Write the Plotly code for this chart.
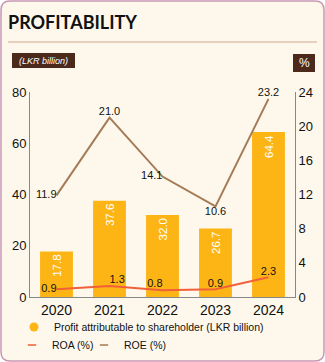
import plotly.graph_objects as go

years = ["2020", "2021", "2022", "2023", "2024"]
profit = [17.8, 37.6, 32.0, 26.7, 64.4]
roa = [0.9, 1.3, 0.8, 0.9, 2.3]
roe = [11.9, 21.0, 14.1, 10.6, 23.2]
roa_pos = ["middle left", "top right", "top left", "top center", "top center"]
roe_pos = ["middle left", "top center", "middle left", "bottom center", "top center"]

BAR = "#FDB515"
ROA_C = "#F2603A"
ROE_C = "#A57B57"
BG = "#FEF8EC"
FONT = "Liberation Sans"

W, H = 325, 362
L, R, T, B = 30, 30, 92, 65
PW, PH = W - L - R, H - T - B


def px(x):
    return (x - L) / PW


def py(y):
    return 1 - (y - T) / PH


fig = go.Figure()
fig.add_trace(go.Bar(
    x=years, y=profit, marker=dict(color=BAR, line=dict(width=0)),
    text=[f"{v:.1f}" for v in profit], textposition="inside", insidetextanchor="end",
    textangle=-90, textfont=dict(color="white", size=11.5, family=FONT),
    showlegend=False, yaxis="y", hoverinfo="skip",
))
fig.add_trace(go.Scatter(
    x=years, y=roa, mode="lines+text", line=dict(color=ROA_C, width=2),
    text=[f"{v:.1f}" for v in roa], textposition=roa_pos,
    textfont=dict(color="#111", size=11, family=FONT), cliponaxis=False,
    name="ROA (%)", yaxis="y2", showlegend=False,
))
fig.add_trace(go.Scatter(
    x=years, y=roe, mode="lines+text", line=dict(color=ROE_C, width=2),
    text=[f"{v:.1f}" for v in roe], textposition=roe_pos,
    textfont=dict(color="#111", size=11, family=FONT), cliponaxis=False,
    name="ROE (%)", yaxis="y2", showlegend=False,
))
# legend entries
fig.add_trace(go.Scatter(
    x=[None], y=[None], mode="markers", marker=dict(symbol="circle", size=9, color=BAR),
    name="Profit attributable to shareholder (LKR billion)", showlegend=True, legend="legend",
))
fig.add_trace(go.Scatter(
    x=[None], y=[None], mode="markers",
    marker=dict(symbol="line-ew", size=6, line=dict(color=ROA_C, width=1.5)),
    name="ROA (%)", showlegend=True, legend="legend2",
))
fig.add_trace(go.Scatter(
    x=[None], y=[None], mode="markers",
    marker=dict(symbol="line-ew", size=6, line=dict(color=ROE_C, width=1.5)),
    name="ROE (%)", showlegend=True, legend="legend3",
))

LEG_FONT = dict(size=10.5, color="#111", family=FONT)
fig.update_layout(
    width=W, height=H,
    margin=dict(l=L, r=R, t=T, b=B, autoexpand=False),
    paper_bgcolor="white", plot_bgcolor="rgba(0,0,0,0)",
    font=dict(family=FONT, color="#111"),
    bargap=0.38,
    xaxis=dict(showline=True, linecolor="#888", linewidth=1, ticks="",
               tickfont=dict(size=14, color="#111"), fixedrange=True),
    yaxis=dict(range=[0, 80], dtick=20, showgrid=False, zeroline=False,
               showline=True, linecolor="#888", linewidth=1,
               tickfont=dict(size=13, color="#111")),
    yaxis2=dict(range=[0, 24], dtick=4, overlaying="y", side="right", showgrid=False,
                zeroline=False, showline=True, linecolor="#888", linewidth=1,
                tickfont=dict(size=13, color="#111")),
    legend=dict(orientation="h", x=px(14), xanchor="left", y=py(327), yanchor="middle",
                font=LEG_FONT, bgcolor="rgba(0,0,0,0)", itemwidth=30),
    legend2=dict(orientation="h", x=px(12), xanchor="left", y=py(345), yanchor="middle",
                 font=LEG_FONT, bgcolor="rgba(0,0,0,0)", itemwidth=30),
    legend3=dict(orientation="h", x=px(84), xanchor="left", y=py(345), yanchor="middle",
                 font=LEG_FONT, bgcolor="rgba(0,0,0,0)", itemwidth=30),
    showlegend=True,
)

# background card with rounded border
r = 9
x0, y0, x1, y1 = 1, 1, 324, 361
pts = [("M", [(x0 + r, y0)]), ("L", [(x1 - r, y0)]), ("Q", [(x1, y0), (x1, y0 + r)]),
       ("L", [(x1, y1 - r)]), ("Q", [(x1, y1), (x1 - r, y1)]), ("L", [(x0 + r, y1)]),
       ("Q", [(x0, y1), (x0, y1 - r)]), ("L", [(x0, y0 + r)]), ("Q", [(x0, y0), (x0 + r, y0)])]
path = " ".join(c + " " + " ".join(f"{px(a):.5f},{py(b):.5f}" for a, b in p) for c, p in pts) + " Z"

fig.add_shape(type="path", xref="paper", yref="paper", path=path,
              fillcolor=BG, line=dict(color="#C996B4", width=1.5), layer="below")
fig.add_shape(type="line", xref="paper", yref="paper", x0=px(8), x1=px(317), y0=py(42), y1=py(42),
              line=dict(color="#CFA98F", width=1))
fig.add_shape(type="rect", xref="paper", yref="paper", x0=px(12), x1=px(75), y0=py(53), y1=py(68),
              fillcolor="#4B2A1C", line=dict(width=0))
fig.add_shape(type="rect", xref="paper", yref="paper", x0=px(293), x1=px(315), y0=py(54), y1=py(72),
              fillcolor="#4B2A1C", line=dict(width=0))

fig.add_annotation(xref="paper", yref="paper", x=px(6), y=py(22), xanchor="left", yanchor="middle",
                   text="<b>PROFITABILITY</b>", showarrow=False,
                   font=dict(size=18, color="#111", family="Lato"))
fig.add_annotation(xref="paper", yref="paper", x=px(43.5), y=py(60.5), xanchor="center", yanchor="middle",
                   text="<i>(LKR billion)</i>", showarrow=False,
                   font=dict(size=9, color="white", family=FONT))
fig.add_annotation(xref="paper", yref="paper", x=px(304), y=py(63), xanchor="center", yanchor="middle",
                   text="%", showarrow=False,
                   font=dict(size=12, color="white", family=FONT))

fig.write_html("out.html")
